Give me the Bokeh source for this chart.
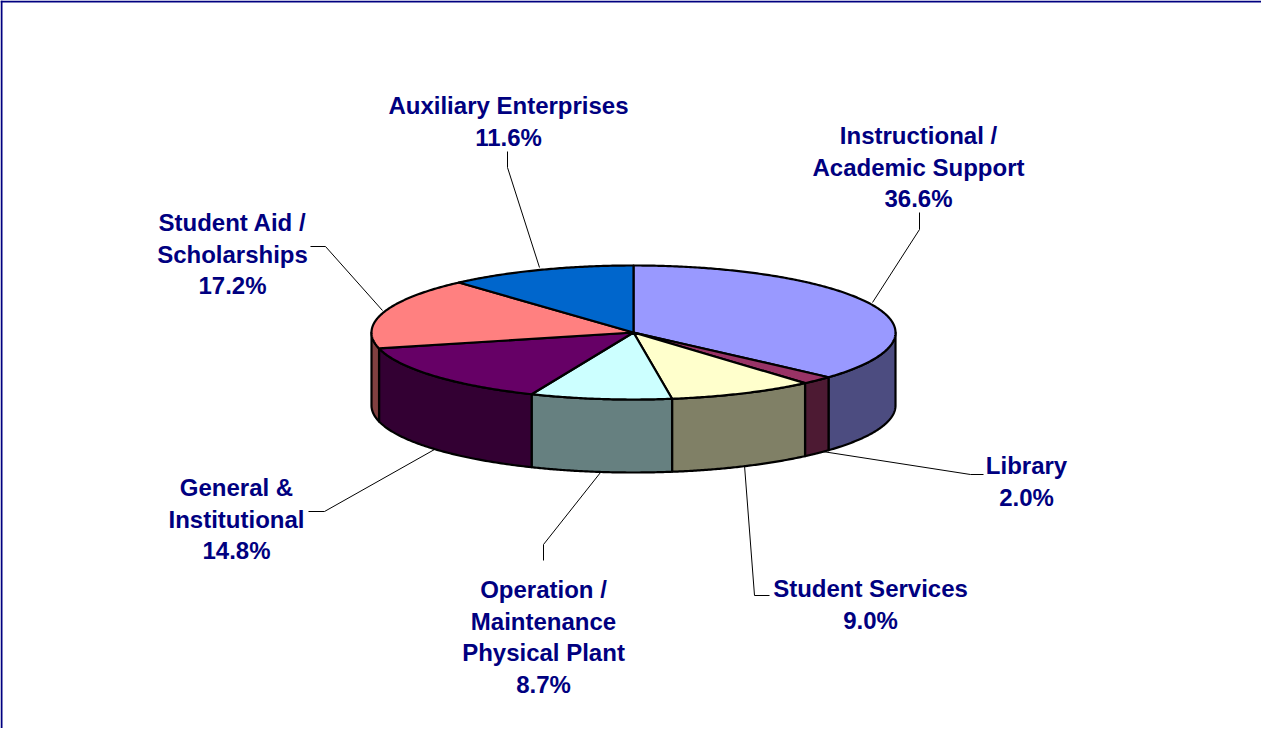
import numpy as np
from bokeh.plotting import figure
from bokeh.models import Range1d, ColumnDataSource
from bokeh.core.properties import value
from bokeh.embed import file_html
from bokeh.resources import INLINE

# ---- data ----
categories = ["Instructional /\nAcademic Support", "Library", "Student Services",
              "Operation /\nMaintenance\nPhysical Plant", "General &\nInstitutional",
              "Student Aid /\nScholarships", "Auxiliary Enterprises"]
values = [36.6, 2.0, 9.0, 8.7, 14.8, 17.2, 11.6]
top_colors = ["#9999FF", "#993366", "#FFFFCC", "#CCFFFF", "#660066", "#FF8080", "#0066CC"]
side_colors = ["#4C4C80", "#4D1A33", "#808066", "#668080", "#330033", "#804040", "#003366"]

# ---- layout (screen-pixel coordinates) ----
label_x = [926, 1034, 878, 551, 244, 240, 516]
label_y = [143, 473, 596, 597, 495, 230, 113]   # baseline of first line
leader_x = [[880, 927, 927], [830, 978, 991], [752, 762, 777], [608, 551, 551],
            [442, 332, 316], [390, 333, 318], [547, 515, 515]]
leader_y = [[310, 237, 220], [459, 482, 482], [473, 603, 603], [480, 552, 568],
            [457, 519, 519], [318, 254, 254], [275, 175, 159]]
LINE_H = 31.6

W, H = 1261, 728
p = figure(width=W, height=H, x_range=Range1d(8, 8 + W), y_range=Range1d(8 + H, 8),
           output_backend="svg", toolbar_location=None, min_border=0,
           x_axis_location=None, y_axis_location=None)
p.grid.visible = False
p.outline_line_color = None
p.background_fill_color = "white"
p.border_fill_color = "white"

# frame (left & top visible in the reference)
p.line([9, 9], [8, 8 + H], line_color="#000080", line_width=2)
p.line([8, 8 + W], [9, 9], line_color="#000080", line_width=2)

cx, cy, rx, ry, depth = 641.0, 340.0, 262.0, 67.0, 73.0
total = float(sum(values))
cum = np.concatenate([[0.0], np.cumsum(values)]) / total * 360.0


def pt(theta_deg, dy=0.0):
    t = np.radians(theta_deg)
    return cx + rx * np.sin(t), cy - ry * np.cos(t) + dy


# side walls (front half: 90..270 degrees clockwise from 12 o'clock)
wall_xs, wall_ys, wall_c = [], [], []
for i in range(len(values)):
    a0, a1 = max(cum[i], 90.0), min(cum[i + 1], 270.0)
    if a1 <= a0:
        continue
    th = np.linspace(a0, a1, 80)
    xt, yt = pt(th)
    xb, yb = pt(th[::-1], depth)
    wall_xs.append(list(np.concatenate([xt, xb])))
    wall_ys.append(list(np.concatenate([yt, yb])))
    wall_c.append(side_colors[i])
p.patches(wall_xs, wall_ys, fill_color=wall_c, line_color="black", line_width=2.2,
          line_join="round")

# top faces
top_xs, top_ys = [], []
for i in range(len(values)):
    th = np.linspace(cum[i], cum[i + 1], max(int((cum[i + 1] - cum[i]) * 2), 6))
    xt, yt = pt(th)
    top_xs.append([cx] + list(xt))
    top_ys.append([cy] + list(yt))
p.patches(top_xs, top_ys, fill_color=top_colors, line_color="black", line_width=2.2,
          line_join="round")

# leader lines
p.multi_line(leader_x, leader_y, line_color="black", line_width=1)

# labels
tx, ty, tt = [], [], []
for i, c in enumerate(categories):
    lines = c.split("\n") + [f"{values[i]:.1f}%"]
    for k, ln in enumerate(lines):
        tx.append(label_x[i])
        ty.append(label_y[i] + k * LINE_H)
        tt.append(ln)
src = ColumnDataSource(dict(x=tx, y=ty, text=tt))
p.text("x", "y", text="text", source=src, text_font=value("Liberation Sans"),
       text_font_style="bold", text_font_size="24px", text_color="#000080",
       text_align="center", text_baseline="alphabetic")

open("out.html", "w").write(file_html(p, INLINE))
